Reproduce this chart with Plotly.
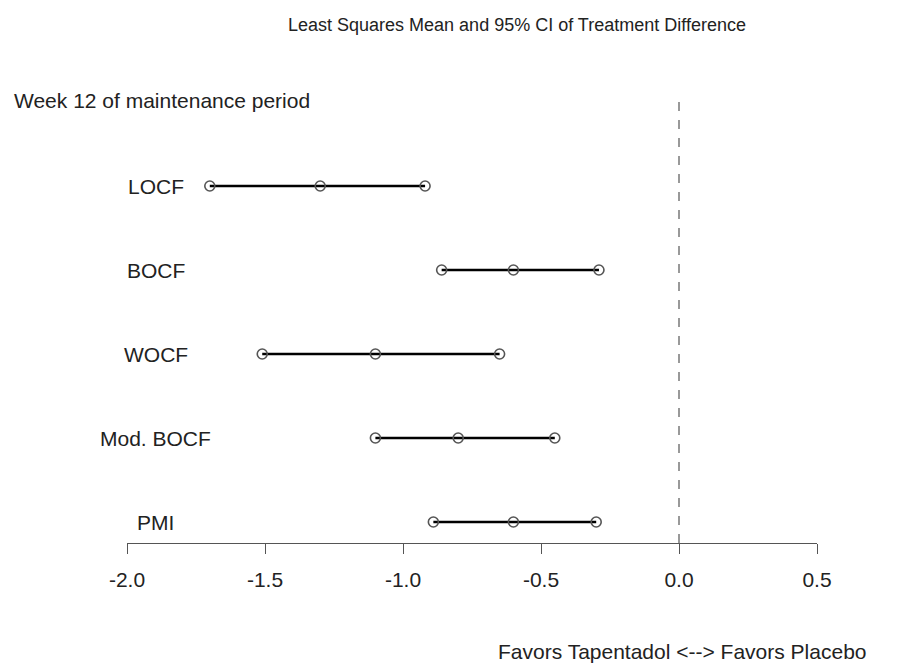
import plotly.graph_objects as go

methods = ["LOCF", "BOCF", "WOCF", "Mod. BOCF", "PMI"]
lower = [-1.70, -0.86, -1.51, -1.10, -0.89]
mean = [-1.30, -0.60, -1.10, -0.80, -0.60]
upper = [-0.92, -0.29, -0.65, -0.45, -0.30]
pvals = ["p<0.001", "p<0001", "p<0.001", "p<0.001", "p<0.001"]
ticks = [-2.0, -1.5, -1.0, -0.5, 0.0, 0.5]

FONT = "Liberation Sans, Arial, sans-serif"
TXT = "#222222"
FS = 21
n = len(methods)
ypos = [n - i for i in range(n)]

fig = go.Figure()
for i, m in enumerate(methods):
    fig.add_trace(go.Scatter(
        x=[lower[i], mean[i], upper[i]], y=[ypos[i]] * 3,
        mode="lines+markers",
        line=dict(color="black", width=2.5),
        marker=dict(symbol="circle-open", size=10, color="#555555", line=dict(width=1.6)),
        showlegend=False, hoverinfo="skip"))
    fig.add_annotation(x=-1.895, y=ypos[i], text=m, showarrow=False,
                       xanchor="center", yanchor="middle",
                       font=dict(family=FONT, size=FS, color=TXT))
    fig.add_annotation(x=0.70, y=ypos[i], text=pvals[i], showarrow=False,
                       xanchor="center", yanchor="middle",
                       font=dict(family=FONT, size=FS, color=TXT))

fig.add_shape(type="line", xref="x", yref="paper", x0=0, x1=0, y0=0, y1=1,
              line=dict(color="#999999", width=2, dash="dash"))

fig.add_annotation(xref="paper", yref="paper", x=0.565, y=1.0,
                   text="Least Squares Mean and 95% CI of Treatment Difference",
                   showarrow=False, xanchor="center", yanchor="middle", yshift=75,
                   font=dict(family=FONT, size=18, color=TXT))
fig.add_annotation(xref="paper", yref="paper", x=-0.166, y=1.0,
                   text="Week 12 of maintenance period", showarrow=False,
                   xanchor="left", yanchor="middle", yshift=0,
                   font=dict(family=FONT, size=FS, color=TXT))
fig.add_annotation(xref="x", yref="paper", x=0.012, y=0,
                   text="Favors Tapentadol <--> Favors Placebo", showarrow=False,
                   xanchor="center", yanchor="middle", yshift=-108,
                   font=dict(family=FONT, size=FS, color=TXT))

fig.update_layout(
    width=914, height=666,
    margin=dict(l=127, r=97, t=100, b=123),
    plot_bgcolor="white", paper_bgcolor="white",
    xaxis=dict(range=[-2.0, 0.5], tickvals=ticks,
               ticktext=[f"{t:.1f}" for t in ticks],
               showgrid=False, zeroline=False, showline=True,
               linecolor="#555555", linewidth=1.3,
               ticks="outside", ticklen=10, tickwidth=1.3, tickcolor="#555555",
               ticklabelstandoff=8,
               tickfont=dict(family=FONT, size=FS, color=TXT)),
    yaxis=dict(range=[0.75, 6.024], showgrid=False, zeroline=False,
               showline=False, showticklabels=False, ticks=""),
)
fig.write_html("out.html")
